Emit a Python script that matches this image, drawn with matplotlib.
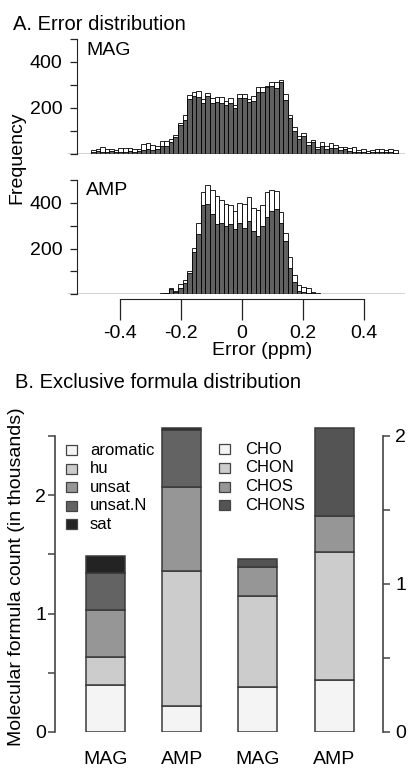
import numpy as np
import matplotlib
matplotlib.use("Agg")
import matplotlib.pyplot as plt
from matplotlib.patches import Rectangle

plt.rcParams['font.family'] = ['Liberation Sans', 'DejaVu Sans']
plt.rcParams['axes.unicode_minus'] = False

# ---------------- data ----------------
bin_width = 0.015
mag_start = -0.495
mag_total = [17, 23, 29, 20, 23, 17, 27, 25, 27, 23, 20, 45, 49, 38, 36, 58, 58, 65, 83, 136,
             170, 257, 271, 275, 239, 267, 242, 246, 246, 232, 242, 213, 259, 259, 239, 252,
             293, 293, 297, 314, 314, 322, 259, 170, 116, 80, 90, 51, 61, 32, 51, 36, 46, 39,
             32, 32, 25, 32, 17, 23, 13, 17, 23, 23, 17, 23, 17]
mag_sub = [9, 13, 10, 10, 12, 9, 10, 9, 12, 10, 13, 17, 20, 17, 20, 35, 35, 54, 75, 126,
           148, 239, 252, 246, 220, 252, 223, 228, 223, 214, 220, 199, 242, 242, 225, 230,
           271, 271, 290, 297, 288, 314, 235, 155, 101, 65, 78, 39, 51, 20, 36, 20, 25, 28,
           17, 20, 13, 10, 7, 7, 6, 9, 10, 10, 7, 9, 6]
amp_start = -0.300
amp_total = [2, 3, 4, 5, 29, 15, 44, 63, 102, 202, 310, 446, 479, 458, 431, 414, 395, 390,
             365, 400, 395, 424, 377, 368, 390, 446, 456, 450, 361, 268, 164, 85, 39, 32, 26,
             10, 4]
amp_sub = [1, 2, 3, 4, 22, 10, 29, 48, 92, 183, 263, 390, 395, 351, 307, 314, 300, 307,
           285, 314, 292, 322, 278, 256, 298, 336, 365, 373, 314, 234, 117, 54, 15, 10, 7,
           4, 3]
hist_xticks = [-0.4, -0.2, 0, 0.2, 0.4]
hist_xticklabels = ['-0.4', '-0.2', '0', '0.2', '0.4']
hist_yticks = [0, 100, 200, 300, 400, 500]
hist_yticklabels = ['', '', '200', '', '400', '']

bar_labels = ['MAG', 'AMP', 'MAG', 'AMP']
group_cats = ['aromatic', 'hu', 'unsat', 'unsat.N', 'sat']
group_vals = {  # thousands, for MAG and AMP
    'aromatic': [0.400, 0.222],
    'hu': [0.235, 1.138],
    'unsat': [0.395, 0.710],
    'unsat.N': [0.310, 0.480],
    'sat': [0.145, 0.013],
}
elem_cats = ['CHO', 'CHON', 'CHOS', 'CHONS']
elem_vals = {
    'CHO': [0.377, 0.439],
    'CHON': [0.773, 1.083],
    'CHOS': [0.245, 0.301],
    'CHONS': [0.065, 0.740],
}
left_ticks = [0, 0.5, 1, 1.5, 2, 2.5]
left_ticklabels = ['0', '', '1', '', '2', '']
right_ticks = [0, 0.5, 1, 1.5, 2]
right_ticklabels = ['0', '', '1', '', '2']

group_colors = ['#f4f4f4', '#cccccc', '#969696', '#636363', '#232323']
elem_colors = ['#f4f4f4', '#cccccc', '#969696', '#545454']

# ---------------- figure ----------------
W, H = 409, 769
fig = plt.figure(figsize=(W / 100, H / 100), dpi=100)
AX = '#222222'


def rect(x0, y0, x1, y1):
    return [x0 / W, 1 - y1 / H, (x1 - x0) / W, (y1 - y0) / H]


def fx(px):
    return px / W


def fy(py):
    return 1 - py / H


def px2x(px):
    return (px - 242) / 305.0


def hist_panel(box, start, total, sub, label, lbl_base_px, bottom_axis):
    ax = fig.add_axes(box)
    n = len(total)
    edges = start + bin_width * np.arange(n)
    ax.bar(edges, total, width=bin_width, align='edge', color='white',
           edgecolor='black', linewidth=0.6, zorder=2)
    ax.bar(edges, sub, width=bin_width, align='edge', color='#606060',
           edgecolor='black', linewidth=0.6, zorder=3)
    ax.set_xlim(px2x(68), px2x(405))
    ax.set_ylim(0, 500)
    ax.axhline(0, color=AX, lw=1.0, zorder=4)
    for s in ['top', 'right']:
        ax.spines[s].set_visible(False)
    ax.spines['left'].set_position(('data', px2x(77)))
    ax.spines['left'].set_bounds(0, 500)
    ax.spines['left'].set_color(AX)
    ax.set_yticks(hist_yticks)
    ax.set_yticklabels(hist_yticklabels)
    ax.tick_params(axis='y', length=5, width=0.9, color=AX, labelsize=14, pad=5.5)
    if bottom_axis:
        ax.spines['bottom'].set_position(('outward', 3.4))
        ax.spines['bottom'].set_bounds(-0.4, 0.4)
        ax.spines['bottom'].set_color(AX)
        ax.set_xticks(hist_xticks)
        ax.set_xticklabels(hist_xticklabels)
        ax.tick_params(axis='x', length=15, width=0.9, color=AX, labelsize=14, pad=3.5)
    else:
        ax.spines['bottom'].set_visible(False)
        ax.set_xticks([])
    ax.patch.set_alpha(0)
    fig.text(fx(86), fy(lbl_base_px), label, fontsize=14, va='baseline', ha='left')
    return ax


hist_panel(rect(68, 39, 405, 154), mag_start, mag_total, mag_sub, 'MAG', 55, False)
hist_panel(rect(68, 180, 405, 294.3), amp_start, amp_total, amp_sub, 'AMP', 195, True)

fig.text(fx(13), fy(29.5), 'A. Error distribution', fontsize=14.5, va='baseline', ha='left')
fig.text(fx(17), fy(158), 'Frequency', fontsize=14, rotation=90, va='center', ha='center')
fig.text(fx(262), fy(355), 'Error (ppm)', fontsize=14, va='baseline', ha='center')

# ---------------- panel B ----------------
bx = fig.add_axes(rect(55, 421.5, 383, 732))
xpos = np.arange(len(bar_labels))
pxs = 76.2
bx.set_xlim((55 - 105.5) / pxs, (383 - 105.5) / pxs)
ytop = (732 - 421.5) / 118.5
bx.set_ylim(0, ytop)
bw = 39 / pxs
edge = '#3a3a3a'

bottom = np.zeros(2)
for cat, col in zip(group_cats, group_colors):
    v = np.array(group_vals[cat])
    bx.bar(xpos[:2], v, bottom=bottom, width=bw, color=col, edgecolor=edge,
           linewidth=1.1, zorder=2)
    bottom += v
bottom = np.zeros(2)
for cat, col in zip(elem_cats, elem_colors):
    v = np.array(elem_vals[cat])
    bx.bar(xpos[2:], v, bottom=bottom, width=bw, color=col, edgecolor=edge,
           linewidth=1.1, zorder=2)
    bottom += v

for s in ['top', 'right', 'bottom']:
    bx.spines[s].set_visible(False)
bx.spines['left'].set_bounds(0, 2.5)
bx.spines['left'].set_color('#444444')
bx.spines['left'].set_linewidth(1.2)
bx.set_yticks(left_ticks)
bx.set_yticklabels(left_ticklabels)
bx.tick_params(axis='y', length=5, width=1.1, color='#444444', labelsize=14, pad=1.5)
bx.set_xticks(xpos)
bx.set_xticklabels(bar_labels)
bx.tick_params(axis='x', length=0, labelsize=14, pad=13.5)
bx.patch.set_alpha(0)

tx = bx.twinx()
tx.set_ylim(0, (732 - 421.5) / 148.0)
for s in ['top', 'left', 'bottom']:
    tx.spines[s].set_visible(False)
tx.spines['right'].set_bounds(0, 2)
tx.spines['right'].set_color('#444444')
tx.spines['right'].set_linewidth(1.2)
tx.set_yticks(right_ticks)
tx.set_yticklabels(right_ticklabels)
tx.tick_params(axis='y', length=5, width=1.1, color='#444444', labelsize=14, pad=4)

fig.text(fx(15), fy(388.5), 'B. Exclusive formula distribution', fontsize=14.5,
         va='baseline', ha='left')
fig.text(fx(17), fy(577), 'Molecular formula count (in thousands)', fontsize=14,
         rotation=90, va='center', ha='center')


def legend(x_sq, x_txt, y0, dy, cats, cols):
    for i, (c, col) in enumerate(zip(cats, cols)):
        yc = y0 + i * dy
        fig.add_artist(Rectangle((fx(x_sq - 5.5), fy(yc + 5)), 11 / W, 10 / H,
                                 transform=fig.transFigure, facecolor=col,
                                 edgecolor='#444444', linewidth=0.9))
        fig.text(fx(x_txt), fy(yc), c, fontsize=12, va='center', ha='left')


legend(71, 90, 450, 18.6, group_cats, group_colors)
legend(224, 245, 449, 18.8, elem_cats, elem_colors)

fig.savefig('out.png', dpi=100)
